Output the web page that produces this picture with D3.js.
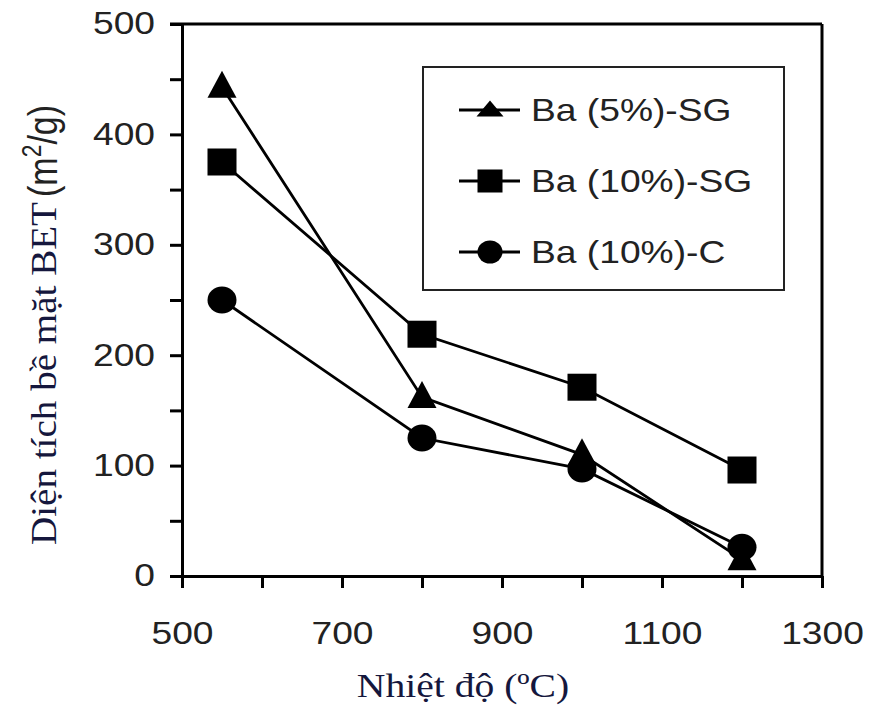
<!DOCTYPE html>
<html>
<head>
<meta charset="utf-8">
<script src="https://cdn.jsdelivr.net/npm/d3@7"></script>
<style>
  body { margin: 0; background: #fff; }
  svg { display: block; }
</style>
</head>
<body>
<div id="chart"></div>
<script>
// temperature (oC) at which each sample was measured
var temps = [550, 800, 1000, 1200];
// BET surface area (m2/g)
var ba5SG = [443, 162, 110, 15];
var ba10SG = [375, 219, 171, 96];
var ba10C = [250, 125, 97, 26];
var seriesNames = ["Ba (5%)-SG", "Ba (10%)-SG", "Ba (10%)-C"];
var seriesShapes = ["triangle", "square", "circle"];
var xTicks = [500, 600, 700, 800, 900, 1000, 1100, 1200, 1300];
var yTicks = [0, 50, 100, 150, 200, 250, 300, 350, 400, 450, 500];

var W = 873, H = 706;
var margin = {top: 24, right: 51, bottom: 130, left: 182};
var width = W - margin.left - margin.right;
var height = H - margin.top - margin.bottom;
var stretch = 1.2; // the picture is a bit wider than tall text would be

var svg = d3.select("#chart")
  .append("svg")
  .attr("width", W)
  .attr("height", H);

var g = svg.append("g")
  .attr("transform", "translate(" + margin.left + "," + margin.top + ")");

var x = d3.scaleLinear().domain([500, 1300]).range([0, width]);
var y = d3.scaleLinear().domain([0, 500]).range([height, 0]);

var series = [ba5SG, ba10SG, ba10C].map(function(vals, i) {
  return {
    name: seriesNames[i],
    shape: seriesShapes[i],
    values: vals.map(function(v, j) { return {t: temps[j], v: v}; })
  };
});

// frame (top and right)
g.append("line")
  .attr("x1", -12).attr("x2", width)
  .attr("y1", 0).attr("y2", 0)
  .attr("stroke", "#000").attr("stroke-width", 3);
g.append("line")
  .attr("x1", width).attr("x2", width)
  .attr("y1", 0).attr("y2", height)
  .attr("stroke", "#000").attr("stroke-width", 3);

// X axis
var xAxis = g.append("g")
  .attr("transform", "translate(0," + height + ")")
  .call(d3.axisBottom(x).tickValues(xTicks).tickSize(12).tickSizeOuter(0).tickPadding(34)
    .tickFormat(function(d) { return d % 200 === 100 ? d : ""; }));

// Y axis
var yAxis = g.append("g")
  .call(d3.axisLeft(y).tickValues(yTicks).tickSize(12).tickSizeOuter(0).tickPadding(10.5)
    .tickFormat(function(d) { return d % 100 === 0 ? d : ""; }));

[xAxis, yAxis].forEach(function(ax) {
  ax.select(".domain").attr("stroke", "#000").attr("stroke-width", 3);
  ax.selectAll(".tick line").attr("stroke", "#000").attr("stroke-width", 3);
  ax.selectAll(".tick text")
    .attr("fill", "#222")
    .style("font-family", "'Liberation Sans', Arial, sans-serif")
    .style("font-size", "31px")
    .attr("transform", "scale(" + stretch + ",1)");
});
xAxis.selectAll(".tick text").attr("dy", "0.72em");

function marker(sel, shape, w, h) {
  if (shape === "square") {
    sel.append("rect")
      .attr("x", -w / 2).attr("y", -h / 2)
      .attr("width", w).attr("height", h)
      .attr("fill", "#000");
  } else if (shape === "circle") {
    sel.append("ellipse")
      .attr("rx", w / 2).attr("ry", h / 2)
      .attr("fill", "#000");
  } else {
    sel.append("path")
      .attr("d", "M0," + (-h * 0.6) + "L" + (w / 2) + "," + (h * 0.4) + "L" + (-w / 2) + "," + (h * 0.4) + "Z")
      .attr("fill", "#000");
  }
}

var line = d3.line()
  .x(function(d) { return x(d.t); })
  .y(function(d) { return y(d.v); });

series.forEach(function(s) {
  g.append("path")
    .datum(s.values)
    .attr("fill", "none")
    .attr("stroke", "#000")
    .attr("stroke-width", 2.8)
    .attr("d", line);

  s.values.forEach(function(d) {
    var m = g.append("g")
      .attr("transform", "translate(" + x(d.t) + "," + y(d.v) + ")");
    marker(m, s.shape, 29, 27);
  });
});

// legend
var legend = svg.append("g").attr("transform", "translate(423,67)");
legend.append("rect")
  .attr("width", 361).attr("height", 223)
  .attr("fill", "#fff")
  .attr("stroke", "#222").attr("stroke-width", 2);

series.forEach(function(s, i) {
  var row = legend.append("g")
    .attr("transform", "translate(0," + (43 + i * 71) + ")");
  row.append("line")
    .attr("x1", 36).attr("x2", 97)
    .attr("stroke", "#000").attr("stroke-width", 2.8);
  var m = row.append("g").attr("transform", "translate(67,0)");
  if (s.shape === "triangle") marker(m, s.shape, 27, 16);
  else marker(m, s.shape, 25, 23);
  row.append("text")
    .attr("transform", "translate(108,11) scale(" + stretch + ",1)")
    .attr("fill", "#222")
    .style("font-family", "'Liberation Sans', Arial, sans-serif")
    .style("font-size", "31px")
    .text(s.name);
});

// X title
svg.append("text")
  .attr("transform", "translate(463,697) scale(" + stretch + ",1)")
  .attr("text-anchor", "middle")
  .attr("fill", "#15173d")
  .style("font-family", "'Liberation Serif', 'Times New Roman', serif")
  .style("font-size", "33px")
  .text("Nhiệt độ (ºC)");

// Y title: serif part then the unit in sans
svg.append("text")
  .attr("transform", "translate(56,545) scale(" + stretch + ",1) rotate(-90)")
  .attr("fill", "#15173d")
  .attr("textLength", 343)
  .attr("lengthAdjust", "spacingAndGlyphs")
  .style("font-family", "'Liberation Serif', 'Times New Roman', serif")
  .style("font-size", "30px")
  .text("Diện tích bề mặt BET");

var unit = svg.append("text")
  .attr("transform", "translate(57,197) scale(" + stretch + ",1) rotate(-90)")
  .attr("fill", "#222")
  .style("font-family", "'Liberation Sans', Arial, sans-serif")
  .style("font-size", "34px");
unit.append("tspan").text("(m");
unit.append("tspan").attr("dy", -13).style("font-size", "23px").text("2");
unit.append("tspan").attr("dy", 13).text("/g)");
</script>
</body>
</html>
